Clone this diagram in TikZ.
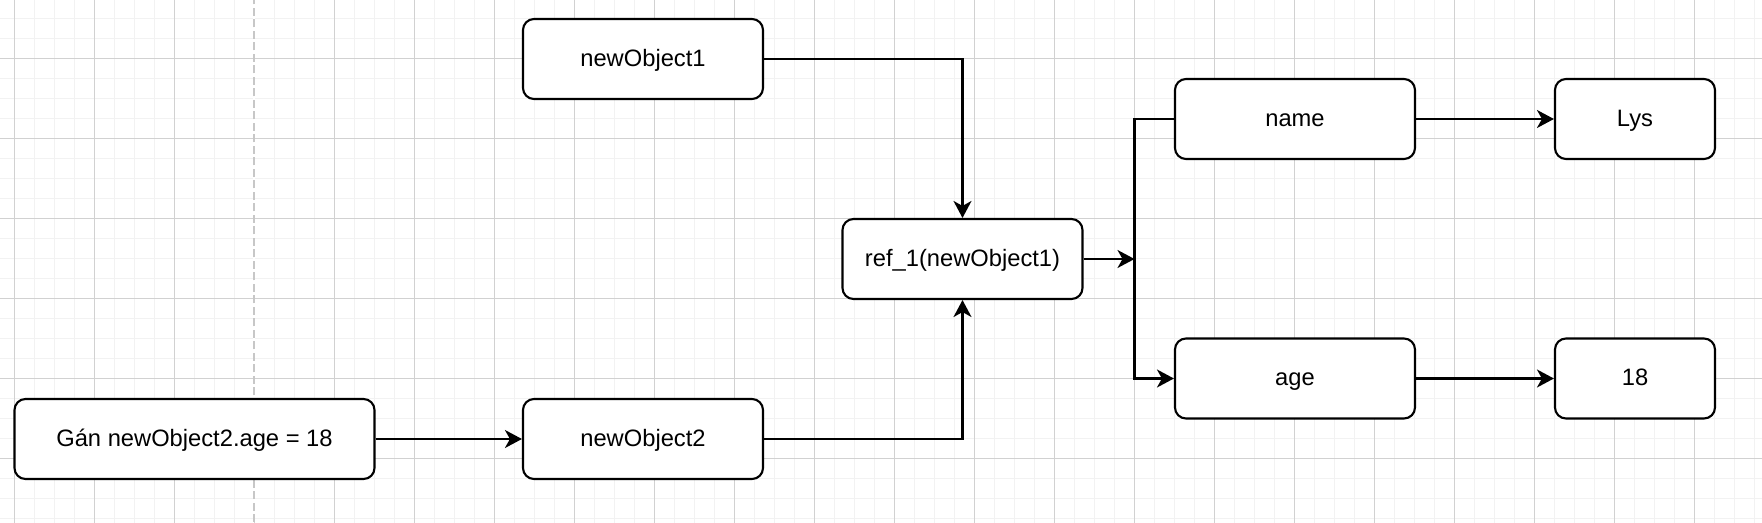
\documentclass[tikz,border=0pt]{standalone}
\usepackage{fontspec}
\setmainfont{Liberation Sans}
\usepackage{tikz}
\usetikzlibrary{arrows.meta, positioning, calc}

\begin{document}
\begin{tikzpicture}[>=Stealth, font=\fontsize{13.5}{16}\selectfont,
    box/.style={draw, line width=1.2pt, rounded corners=0.22cm, fill=white,
                minimum width=4.8cm, minimum height=1.6cm, inner sep=0pt,
                text height=1em, text depth=0.16em},
    valbox/.style={box, minimum width=3.2cm},
    link/.style={line width=1.2pt, -{Stealth[length=0.34cm, width=0.36cm, inset=0.1cm]}},
    gridminor/.style={black!5, line width=0.8pt},
    gridmajor/.style={black!18, line width=0.5pt}]

% ---- Canvas grid --------------------------------------------------------
\useasboundingbox (0,0) rectangle (35.24,10.44);
\begin{scope}
  \clip (0,0) rectangle (35.24,10.44);
  \draw[gridminor, shift={(0.286,0.074)}] (-0.4,-0.4) grid[step=0.4] (35.2,10.8);
  \draw[gridmajor, shift={(0.286,1.274)}] (-1.6,-1.6) grid[step=1.6] (35.2,9.6);
  \draw[white, line width=1pt] (5.086,0) -- (5.086,10.44);
  \draw[black!22, line width=1pt, dash pattern=on 0.16cm off 0.07cm] (5.086,0) -- (5.086,10.44);
\end{scope}

% ---- Objects ------------------------------------------------------------
\node[box] (obj1) at (12.86,9.26) {newObject1};
\node[box] (obj2) at (12.86,1.66) {newObject2};
\node[box, minimum width=7.2cm] (assign) at (3.89,1.66) {Gán newObject2.age = 18};
\node[box] (ref) at (19.25,5.26) {ref\_1(newObject1)};

% ---- Fields -------------------------------------------------------------
\node[box] (name) at (25.9,8.06) {name};
\node[box] (age) at (25.9,2.87) {age};
\node[valbox] (lys) at (32.7,8.06) {Lys};
\node[valbox] (val) at (32.7,2.87) {18};
\coordinate (split) at (22.69,5.26);

% ---- Links --------------------------------------------------------------
\draw[link] (assign.east) -- (obj2.west);
\draw[link] (obj1.east) -| (ref.north);
\draw[link] (obj2.east) -| (ref.south);
\draw[link] (ref.east) -- (split);
\draw[link] (name.west) -| (split) |- (age.west);
\draw[link] (name.east) -- (lys.west);
\draw[link] (age.east) -- (val.west);

\end{tikzpicture}
\end{document}
